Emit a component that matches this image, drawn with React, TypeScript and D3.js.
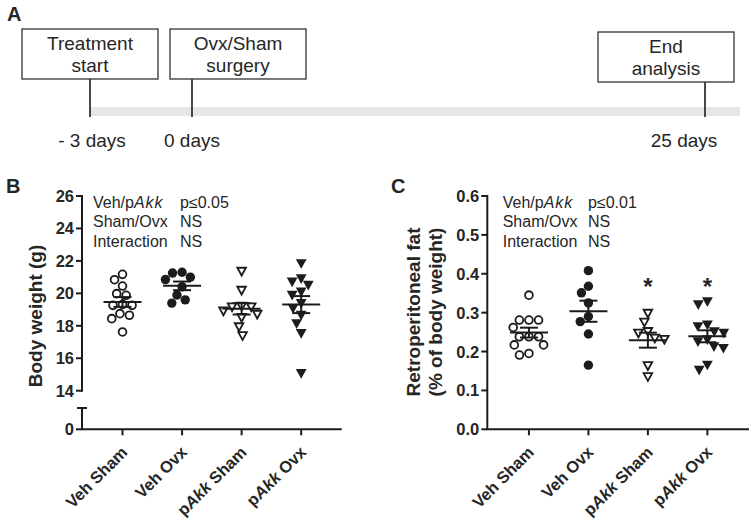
import React from "react";
import * as d3 from "d3";

// ---------- DATA ----------
const categories = ["Veh Sham", "Veh Ovx", "pAkk Sham", "pAkk Ovx"];

// Panel B: body weight (g)
const vehShamBW = [21.17, 20.84, 20.45, 19.98, 19.88, 19.32, 19.26, 19.26, 18.75, 18.65, 18.44, 17.62];
const vehOvxBW = [21.3, 21.25, 21.0, 20.85, 20.4, 19.9, 19.6, 19.4];
const pAkkShamBW = [21.35, 20.18, 19.2, 19.16, 19.16, 18.9, 18.7, 18.5, 17.93, 17.38];
const pAkkOvxBW = [21.83, 20.9, 20.7, 20.5, 20.08, 19.88, 19.37, 19.06, 18.65, 18.13, 17.52, 15.06];

// Panel C: retroperitoneal fat (% of body weight)
const vehShamFat = [0.345, 0.281, 0.281, 0.281, 0.262, 0.238, 0.238, 0.238, 0.217, 0.217, 0.195, 0.191];
const vehOvxFat = [0.408, 0.368, 0.351, 0.325, 0.29, 0.277, 0.245, 0.165];
const pAkkShamFat = [0.298, 0.275, 0.251, 0.247, 0.234, 0.231, 0.163, 0.135];
const pAkkOvxFat = [0.328, 0.32, 0.268, 0.264, 0.251, 0.247, 0.23, 0.225, 0.212, 0.208, 0.165, 0.152];

const bwTicks = [14, 16, 18, 20, 22, 24, 26];
const fatTicks = [0, 0.1, 0.2, 0.3, 0.4, 0.5, 0.6];

const statsLabels = ["Veh/pAkk", "Sham/Ovx", "Interaction"];
const statsB = ["p≤0.05", "NS", "NS"];
const statsC = ["p≤0.01", "NS", "NS"];
const starredC = ["pAkk Sham", "pAkk Ovx"];

const timelineBoxes = [["Treatment", "start"], ["Ovx/Sham", "surgery"], ["End", "analysis"]];
const timelineDays = ["- 3 days", "0 days", "25 days"];

// ---------- STYLE ----------
const FONT = "'Liberation Sans', Arial, Helvetica, sans-serif";
const INK = "#1c1c1c";
const TXT = "#262626";
const markerKinds = ["circleOpen", "circleFilled", "triOpen", "triFilled"];

function beeswarm(ys: number[], D: number): number[] {
  const placed: { x: number; y: number }[] = [];
  const order = ys.map((y, i) => i).sort((a, b) => ys[a] - ys[b]);
  const xs = new Array(ys.length).fill(0);
  for (const i of order) {
    const y = ys[i];
    const intervals: [number, number][] = [];
    for (const p of placed) {
      const dy = Math.abs(p.y - y);
      if (dy < D) {
        const w = Math.sqrt(D * D - dy * dy);
        intervals.push([p.x - w, p.x + w]);
      }
    }
    const cands = [0];
    intervals.forEach(([a, b]) => { cands.push(a, b); });
    cands.sort((a, b) => Math.abs(a) - Math.abs(b) || a - b);
    let chosen = 0;
    for (const c of cands) {
      if (!intervals.some(([a, b]) => c > a + 1e-6 && c < b - 1e-6)) { chosen = c; break; }
    }
    xs[i] = chosen;
    placed.push({ x: chosen, y });
  }
  return xs;
}

function Marker({ kind, x, y }: { kind: string; x: number; y: number }) {
  if (kind === "circleOpen") return <circle cx={x} cy={y} r={3.9} fill="#fff" stroke={INK} strokeWidth={1.8} />;
  if (kind === "circleFilled") return <circle cx={x} cy={y} r={4.7} fill={INK} />;
  const path = d3.path();
  if (kind === "triOpen") {
    path.moveTo(x - 4.3, y - 3.7); path.lineTo(x + 4.3, y - 3.7); path.lineTo(x, y + 4.1); path.closePath();
    return <path d={path.toString()} fill="#fff" stroke={INK} strokeWidth={1.8} strokeLinejoin="miter" />;
  }
  path.moveTo(x - 5.4, y - 4.5); path.lineTo(x + 5.4, y - 4.5); path.lineTo(x, y + 5.2); path.closePath();
  return <path d={path.toString()} fill={INK} />;
}

function Groups({ groups, x, y, D }: { groups: number[][]; x: d3.ScalePoint<string>; y: (v: number) => number; D: number }) {
  return (
    <g>
      {groups.map((vals, gi) => {
        const cx = x(categories[gi])!;
        const ys = vals.map(y);
        const offs = beeswarm(ys, D);
        const mean = d3.mean(vals)!;
        const sem = d3.deviation(vals)! / Math.sqrt(vals.length);
        const ym = y(mean), yHi = y(mean + sem), yLo = y(mean - sem);
        return (
          <g key={gi}>
            {vals.map((v, i) => <Marker key={i} kind={markerKinds[gi]} x={cx + offs[i]} y={ys[i]} />)}
            <line x1={cx - 19} x2={cx + 19} y1={ym} y2={ym} stroke={INK} strokeWidth={2} />
            <line x1={cx} x2={cx} y1={yHi} y2={yLo} stroke={INK} strokeWidth={2} />
            <line x1={cx - 9} x2={cx + 9} y1={yHi} y2={yHi} stroke={INK} strokeWidth={2} />
            <line x1={cx - 9} x2={cx + 9} y1={yLo} y2={yLo} stroke={INK} strokeWidth={2} />
          </g>
        );
      })}
    </g>
  );
}

function CatLabels({ x, y0 }: { x: d3.ScalePoint<string>; y0: number }) {
  return (
    <g>
      {categories.map((c) => {
        const tx = x(c)!;
        const parts = c.split(" ");
        return (
          <g key={c}>
            <line x1={tx} x2={tx} y1={y0} y2={y0 + 6} stroke={INK} strokeWidth={2} />
            <text transform={`translate(${tx + 6},${y0 + 24}) rotate(-45)`} textAnchor="end" fontFamily={FONT} fontWeight="bold" fontSize={16.5} fill={TXT}>
              {parts[0].startsWith("p") ? (<><tspan>p</tspan><tspan fontStyle="italic">Akk</tspan></>) : parts[0]}
              {" " + parts[1]}
            </text>
          </g>
        );
      })}
    </g>
  );
}

function Stats({ x0, x1, y0, vals }: { x0: number; x1: number; y0: number; vals: string[] }) {
  return (
    <g fontFamily={FONT} fontSize={16} fill={TXT}>
      {statsLabels.map((l, i) => (
        <g key={l}>
          <text x={x0} y={y0 + i * 19.5}>
            {l.includes("pAkk") ? (<><tspan>Veh/p</tspan><tspan fontStyle="italic" letterSpacing={1}>Akk</tspan></>) : l}
          </text>
          <text x={x1} y={y0 + i * 19.5}>{vals[i]}</text>
        </g>
      ))}
    </g>
  );
}

export default function App() {
  // ---- Panel B scales ----
  const bLeft = 82, bRight = 341.7, bBase = 429.3;
  const xB = d3.scalePoint<string>().domain(categories).range([bLeft, bRight]).padding(0.68);
  const yB = d3.scaleLinear().domain([14, 26]).range([390.7, 196]);
  // ---- Panel C scales ----
  const cLeft = 487.3, cRight = 749, cBase = 429.3;
  const xC = d3.scalePoint<string>().domain(categories).range([cLeft, cRight]).padding(0.7);
  const yC = d3.scaleLinear().domain([0, 0.6]).range([cBase, 196]);

  const boxX = [22, 170, 598];
  const boxY = [29, 29, 32];
  const boxW = 136, boxH = 50;
  const lineX = [90, 192, 705];
  const dayX = [92, 192, 684];

  const tickFont = 16.5;

  return (
    <svg width={750} height={524} style={{ position: "absolute", left: 0, top: 0, background: "#fff" }}>
      <rect width={750} height={524} fill="#fff" />
      {/* Panel A */}
      <text x={7} y={21} fontFamily={FONT} fontWeight="bold" fontSize={20} fill={TXT}>A</text>
      <rect x={lineX[0]} y={107} width={740 - lineX[0]} height={9} fill="#e6e6e6" />
      {timelineBoxes.map((lines, i) => (
        <g key={i}>
          <line x1={lineX[i]} x2={lineX[i]} y1={boxY[i] + boxH} y2={117} stroke={INK} strokeWidth={1.6} />
          <rect x={boxX[i]} y={boxY[i]} width={boxW} height={boxH} fill="#fff" stroke="#333" strokeWidth={1.3} />
          {lines.map((t, j) => (
            <text key={j} x={boxX[i] + boxW / 2} y={boxY[i] + 21 + j * 22} textAnchor="middle" fontFamily={FONT} fontSize={19} fill={TXT}>{t}</text>
          ))}
          <text x={dayX[i]} y={147} textAnchor="middle" fontFamily={FONT} fontSize={19} fill={TXT}>{timelineDays[i]}</text>
        </g>
      ))}

      {/* Panel B */}
      <text x={6} y={193} fontFamily={FONT} fontWeight="bold" fontSize={20} fill={TXT}>B</text>
      <text transform={`translate(42,316) rotate(-90)`} textAnchor="middle" fontFamily={FONT} fontWeight="bold" fontSize={19} fill={TXT}>Body weight (g)</text>
      <line x1={bLeft} x2={bLeft} y1={yB(26) - 1} y2={yB(14) + 1} stroke={INK} strokeWidth={2} />
      <line x1={bLeft} x2={bLeft} y1={408} y2={bBase} stroke={INK} strokeWidth={2} />
      <line x1={bLeft - 5} x2={bLeft + 5} y1={408} y2={408} stroke={INK} strokeWidth={2} />
      <line x1={bLeft - 1} x2={bRight} y1={bBase} y2={bBase} stroke={INK} strokeWidth={2} />
      <line x1={bLeft - 6} x2={bLeft} y1={bBase} y2={bBase} stroke={INK} strokeWidth={2} />
      <text x={bLeft - 8} y={bBase + 6} textAnchor="end" fontFamily={FONT} fontWeight="bold" fontSize={tickFont} fill={TXT}>0</text>
      {bwTicks.map((t) => (
        <g key={t}>
          <line x1={bLeft - 6} x2={bLeft} y1={yB(t)} y2={yB(t)} stroke={INK} strokeWidth={2} />
          <text x={bLeft - 8} y={yB(t) + 6} textAnchor="end" fontFamily={FONT} fontWeight="bold" fontSize={tickFont} fill={TXT}>{t}</text>
        </g>
      ))}
      <Stats x0={93} x1={180} y0={207.5} vals={statsB} />
      <Groups groups={[vehShamBW, vehOvxBW, pAkkShamBW, pAkkOvxBW]} x={xB} y={yB} D={9.6} />
      <CatLabels x={xB} y0={bBase} />

      {/* Panel C */}
      <text x={391} y={193} fontFamily={FONT} fontWeight="bold" fontSize={20} fill={TXT}>C</text>
      <text transform={`translate(420,312) rotate(-90)`} textAnchor="middle" fontFamily={FONT} fontWeight="bold" fontSize={19} fill={TXT}>Retroperitoneal fat</text>
      <text transform={`translate(442,312) rotate(-90)`} textAnchor="middle" fontFamily={FONT} fontWeight="bold" fontSize={19} fill={TXT}>(% of body weight)</text>
      <line x1={cLeft} x2={cLeft} y1={yC(0.6) - 1} y2={cBase} stroke={INK} strokeWidth={2} />
      <line x1={cLeft - 1} x2={cRight} y1={cBase} y2={cBase} stroke={INK} strokeWidth={2} />
      {fatTicks.map((t) => (
        <g key={t}>
          <line x1={cLeft - 6} x2={cLeft} y1={yC(t)} y2={yC(t)} stroke={INK} strokeWidth={2} />
          <text x={cLeft - 8} y={yC(t) + 6} textAnchor="end" fontFamily={FONT} fontWeight="bold" fontSize={tickFont} fill={TXT}>{d3.format(".1f")(t)}</text>
        </g>
      ))}
      <Stats x0={502.7} x1={588} y0={207.5} vals={statsC} />
      <Groups groups={[vehShamFat, vehOvxFat, pAkkShamFat, pAkkOvxFat]} x={xC} y={yC} D={9.6} />
      {starredC.map((c) => (
        <text key={c} x={xC(c)!} y={yC(0.363) + 7} textAnchor="middle" fontFamily={FONT} fontWeight="bold" fontSize={24} fill={TXT}>*</text>
      ))}
      <CatLabels x={xC} y0={cBase} />
    </svg>
  );
}
